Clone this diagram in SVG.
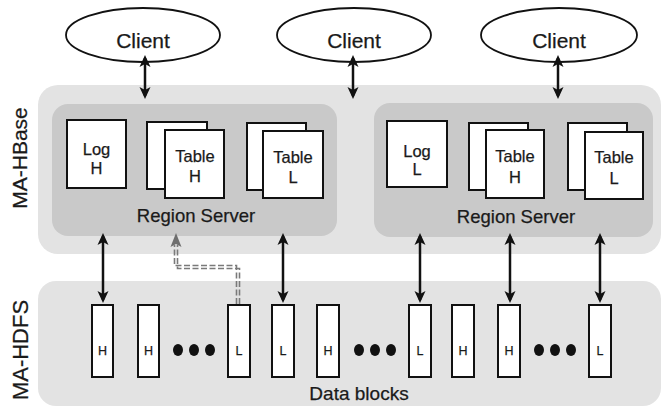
<svg xmlns="http://www.w3.org/2000/svg" width="664" height="410" viewBox="0 0 664 410">
<style>
text{font-family:"Liberation Sans",Arial,sans-serif;fill:#1a1a1a;text-anchor:middle;stroke:#1a1a1a;stroke-width:0.25}
.client{fill:#fff;stroke:#111;stroke-width:1.8}
.outer{fill:#e3e3e3}
.rs{fill:#c9c9c9}
.box{fill:#fff;stroke:#111;stroke-width:2}
.blk{fill:#fff;stroke:#111;stroke-width:2}
.arr{stroke:#111;stroke-width:2.5;fill:none;marker-start:url(#ah);marker-end:url(#ah)}
.dash{stroke:#7a7a7a;stroke-width:1.6;fill:none;stroke-dasharray:6 2.5}
.t16{font-size:16.5px}
.t12{font-size:12.5px}
.dot{fill:#111}
</style>
<defs>
<marker id="ah" markerUnits="userSpaceOnUse" markerWidth="12" markerHeight="12" viewBox="0 0 12 12" refX="9" refY="6" orient="auto-start-reverse">
<path d="M0,0.5 L12,6 L0,11.5 L3,6 z" fill="#111"/>
</marker>
</defs>
<rect width="664" height="410" fill="#fff"/>

<g id="hbase">
<rect class="outer" x="38" y="85" width="623" height="169" rx="20"/>
<text transform="translate(27,158) rotate(-90)" font-size="21">MA-HBase</text>
</g>
<g id="hdfs">
<rect class="outer" x="38" y="281" width="623" height="125" rx="18"/>
<text transform="translate(28,350) rotate(-90)" font-size="22">MA-HDFS</text>
<text x="359" y="400" font-size="19">Data blocks</text>
</g>

<g id="client1"><ellipse class="client" cx="143" cy="35" rx="77" ry="27"/><text x="143" y="48" font-size="21">Client</text></g>
<g id="client2"><ellipse class="client" cx="354" cy="35" rx="77" ry="27"/><text x="354" y="48" font-size="21">Client</text></g>
<g id="client3"><ellipse class="client" cx="559" cy="35" rx="78" ry="27"/><text x="559" y="48" font-size="21">Client</text></g>

<g id="rs1">
<rect class="rs" x="52" y="104" width="285" height="132" rx="16"/>
<text x="196" y="222" font-size="18.5">Region Server</text>
<g id="rs1-log"><rect class="box" x="67" y="120" width="59" height="68"/><text class="t16" x="96.5" y="155">Log</text><text class="t16" x="96.5" y="174">H</text></g>
<g id="rs1-tableH"><rect class="box" x="147" y="122" width="60" height="67"/><rect class="box" x="165" y="130" width="59" height="68"/><text class="t16" x="195" y="162">Table</text><text class="t16" x="195" y="182">H</text></g>
<g id="rs1-tableL"><rect class="box" x="247" y="123" width="59" height="67"/><rect class="box" x="263" y="131" width="60" height="67"/><text class="t16" x="293" y="163">Table</text><text class="t16" x="293" y="183">L</text></g>
</g>

<g id="rs2">
<rect class="rs" x="374" y="103" width="279" height="134" rx="16"/>
<text x="516" y="223" font-size="18.5">Region Server</text>
<g id="rs2-log"><rect class="box" x="387" y="121" width="60" height="66"/><text class="t16" x="417" y="157">Log</text><text class="t16" x="417" y="175">L</text></g>
<g id="rs2-tableH"><rect class="box" x="469" y="123" width="59" height="67"/><rect class="box" x="486" y="130" width="58" height="68"/><text class="t16" x="515" y="162">Table</text><text class="t16" x="515" y="183">H</text></g>
<g id="rs2-tableL"><rect class="box" x="568" y="123" width="59" height="67"/><rect class="box" x="585" y="132" width="58" height="67"/><text class="t16" x="614" y="163">Table</text><text class="t16" x="614" y="184">L</text></g>
</g>

<g id="blocks">
<g id="b1"><rect class="blk" x="92" y="305" width="21" height="72"/><text class="t12" x="102.5" y="355">H</text></g>
<g id="b2"><rect class="blk" x="138" y="305" width="21" height="72"/><text class="t12" x="148.5" y="355">H</text></g>
<g id="d1"><ellipse class="dot" cx="178" cy="350" rx="5" ry="6"/><ellipse class="dot" cx="194" cy="350" rx="5" ry="6"/><ellipse class="dot" cx="210" cy="350" rx="5" ry="6"/></g>
<g id="b3"><rect class="blk" x="228" y="305" width="22" height="72"/><text class="t12" x="239" y="355">L</text></g>
<g id="b4"><rect class="blk" x="272" y="305" width="22" height="72"/><text class="t12" x="283" y="355">L</text></g>
<g id="b5"><rect class="blk" x="317" y="305" width="22" height="72"/><text class="t12" x="328" y="355">H</text></g>
<g id="d2"><ellipse class="dot" cx="359" cy="350" rx="5" ry="6"/><ellipse class="dot" cx="375" cy="350" rx="5" ry="6"/><ellipse class="dot" cx="391" cy="350" rx="5" ry="6"/></g>
<g id="b6"><rect class="blk" x="409" y="305" width="22" height="72"/><text class="t12" x="420" y="355">L</text></g>
<g id="b7"><rect class="blk" x="452" y="305" width="22" height="72"/><text class="t12" x="463" y="355">H</text></g>
<g id="b8"><rect class="blk" x="498" y="305" width="22" height="72"/><text class="t12" x="509" y="355">H</text></g>
<g id="d3"><ellipse class="dot" cx="539" cy="350" rx="5" ry="6"/><ellipse class="dot" cx="555" cy="350" rx="5" ry="6"/><ellipse class="dot" cx="571" cy="350" rx="5" ry="6"/></g>
<g id="b9"><rect class="blk" x="589" y="305" width="22" height="72"/><text class="t12" x="600" y="355">L</text></g>
</g>

<g id="connectors">
<path class="arr" d="M145,58 V96"/>
<path class="arr" d="M353,58 V96"/>
<path class="arr" d="M558,58 V96"/>
<path class="arr" d="M103,236 V300"/>
<path class="arr" d="M283,236 V300"/>
<path class="arr" d="M420,236 V300"/>
<path class="arr" d="M510,236 V300"/>
<path class="arr" d="M600,236 V300"/>
<path class="dash" d="M236.5,304 V265.5 H174.5 V245"/>
<path class="dash" d="M239.5,304 V268.5 H177.5 V245"/>
<polygon points="176,233 181.5,247 176,244 170.5,247" fill="#6e6e6e"/>
</g>
</svg>
